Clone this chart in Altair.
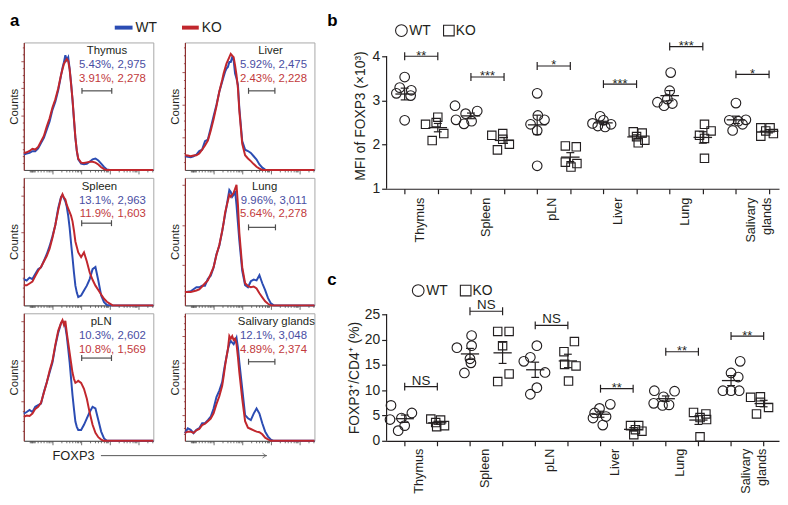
import altair as alt
import pandas as pd

FONT = "Liberation Sans"
INK = "#231f20"
WT_LINE = "#2b4cb3"
KO_LINE = "#c1272d"
WT_TEXT = "#4a4ea3"
KO_TEXT = "#c23a3c"
GATE = "#4d4d4d"
FRAME = "#a8a8a8"
YAXC = "#8e2f2f"

# ---------------- panel a : FOXP3 histograms ----------------
HX = [0.0, 0.1, 0.2, 0.3, 0.4, 0.5, 0.6, 0.7, 0.8, 0.9, 1.0, 1.1, 1.2, 1.3, 1.35, 1.4, 1.45, 1.5,
      1.55, 1.6, 1.65, 1.7, 1.75, 1.8, 1.85, 1.9, 2.0, 2.1, 2.2, 2.3, 2.4, 2.5, 2.6, 2.7, 2.8,
      2.9, 3.0, 3.1, 3.2, 4.52]

THYMUS_WT = [0.57, 0.60, 0.63, 0.69, 0.69, 0.79, 0.99, 1.18, 1.48, 1.78, 2.21, 2.51, 2.93, 3.48, 3.75, 3.96, 4.22, 4.05, 4.15, 3.72,
             3.20, 2.57, 1.85, 1.18, 0.70, 0.39, 0.23, 0.21, 0.23, 0.30, 0.39, 0.42, 0.35, 0.23, 0.11, 0.02, 0, 0, 0, 0]
THYMUS_KO = [0.62, 0.65, 0.70, 0.78, 0.75, 0.85, 1.05, 1.25, 1.60, 1.90, 2.30, 2.60, 3.00, 3.50, 3.70, 3.90, 4.00, 4.08, 4.00, 3.70,
             3.15, 2.60, 1.90, 1.20, 0.70, 0.42, 0.27, 0.26, 0.28, 0.30, 0.30, 0.27, 0.20, 0.10, 0.03, 0, 0, 0, 0, 0]
LIVER_WT = [0.42, 0.40, 0.39, 0.42, 0.47, 0.58, 0.62, 0.88, 0.93, 1.28, 1.64, 1.99, 2.39, 2.70, 2.85, 3.00, 3.10, 3.15, 3.30, 3.30,
            3.45, 3.35, 2.95, 2.80, 2.60, 1.88, 0.88, 0.62, 0.58, 0.52, 0.42, 0.32, 0.17, 0.07, 0.01, 0, 0, 0, 0, 0]
LIVER_KO = [0.45, 0.44, 0.42, 0.44, 0.45, 0.50, 0.62, 0.75, 0.90, 1.20, 1.55, 1.95, 2.40, 2.75, 2.95, 3.10, 3.25, 3.35, 3.45, 3.55,
            3.50, 3.45, 3.20, 2.90, 2.50, 1.80, 0.80, 0.45, 0.35, 0.27, 0.18, 0.10, 0.04, 0, 0, 0, 0, 0, 0, 0]
SPLEEN_WT = [0.72, 0.68, 0.76, 0.72, 0.86, 0.99, 1.04, 1.22, 1.40, 1.62, 1.89, 2.20, 2.66, 2.97, 3.02, 2.93, 2.85, 2.70, 2.45, 2.12,
             1.70, 1.31, 0.90, 0.54, 0.35, 0.23, 0.27, 0.41, 0.54, 0.72, 0.99, 1.05, 0.68, 0.27, 0.09, 0.01, 0, 0, 0, 0]
SPLEEN_KO = [0.55, 0.55, 0.60, 0.65, 0.80, 0.95, 1.05, 1.20, 1.35, 1.55, 1.85, 2.20, 2.60, 2.95, 3.04, 2.95, 2.90, 2.75, 2.65, 2.55,
             2.45, 2.30, 2.05, 1.75, 1.60, 1.45, 1.32, 1.45, 1.20, 0.90, 0.70, 0.54, 0.42, 0.30, 0.18, 0.10, 0.05, 0, 0, 0]
LUNG_WT = [0.33, 0.34, 0.35, 0.40, 0.45, 0.45, 0.49, 0.49, 0.66, 0.74, 0.94, 1.27, 1.48, 1.84, 2.05, 2.25, 2.45, 2.66, 2.87, 2.82,
           2.70, 2.75, 2.85, 2.50, 2.05, 1.60, 0.86, 0.50, 0.45, 0.60, 0.64, 0.62, 0.75, 0.55, 0.38, 0.18, 0.05, 0, 0, 0]
LUNG_KO = [0.33, 0.33, 0.33, 0.35, 0.37, 0.40, 0.47, 0.55, 0.62, 0.78, 0.95, 1.25, 1.50, 1.85, 2.05, 2.30, 2.45, 2.60, 2.75, 2.70,
           2.75, 2.80, 2.90, 3.00, 2.50, 1.80, 0.95, 0.55, 0.48, 0.45, 0.47, 0.42, 0.30, 0.20, 0.10, 0.04, 0, 0, 0, 0]
PLN_WT = [0.68, 0.72, 0.77, 0.72, 0.85, 0.89, 0.93, 1.22, 1.46, 1.71, 1.96, 2.37, 2.70, 2.94, 2.99, 2.96, 2.85, 2.62, 2.30, 1.96,
          1.55, 1.14, 0.80, 0.48, 0.35, 0.27, 0.27, 0.40, 0.56, 0.72, 0.85, 0.81, 0.52, 0.23, 0.06, 0, 0, 0, 0, 0]
PLN_KO = [0.60, 0.63, 0.62, 0.68, 0.80, 0.85, 0.95, 1.20, 1.45, 1.75, 2.00, 2.40, 2.75, 2.95, 3.02, 2.90, 3.00, 2.70, 2.45, 2.20,
          1.95, 1.70, 1.55, 1.45, 1.47, 1.50, 1.45, 1.30, 1.05, 0.70, 0.40, 0.20, 0.09, 0.03, 0, 0, 0, 0, 0, 0]
SAL_WT = [0.29, 0.48, 0.42, 0.29, 0.42, 0.48, 0.67, 0.67, 0.79, 0.92, 1.23, 1.67, 1.92, 2.24, 2.60, 2.93, 3.20, 3.50, 3.70, 3.81,
          3.75, 3.69, 3.81, 3.94, 3.56, 2.99, 1.99, 0.98, 0.86, 0.79, 1.04, 1.23, 1.04, 0.67, 0.35, 0.16, 0.04, 0, 0, 0]
SAL_KO = [0.30, 0.35, 0.35, 0.30, 0.40, 0.45, 0.60, 0.65, 0.75, 0.85, 1.05, 1.40, 1.70, 2.10, 2.45, 2.85, 3.20, 3.50, 4.00, 3.90,
          4.00, 3.85, 3.90, 3.70, 3.20, 2.60, 1.60, 0.75, 0.50, 0.45, 0.40, 0.35, 0.33, 0.25, 0.12, 0.05, 0, 0, 0, 0]

HIST_NAMES = ["Thymus", "Liver", "Spleen", "Lung", "pLN", "Salivary glands"]
HIST_WT = [THYMUS_WT, LIVER_WT, SPLEEN_WT, LUNG_WT, PLN_WT, SAL_WT]
HIST_KO = [THYMUS_KO, LIVER_KO, SPLEEN_KO, LUNG_KO, PLN_KO, SAL_KO]
HIST_YMAX = [4.69, 3.9, 3.49, 3.17, 3.19, 4.87]
WT_STATS = ["5.43%, 2,975", "5.92%, 2,475", "13.1%, 2,963", "9.96%, 3,011", "10.3%, 2,602", "12.1%, 3,048"]
KO_STATS = ["3.91%, 2,278", "2.43%, 2,228", "11.9%, 1,603", "5.64%, 2,278", "10.8%, 1,569", "4.89%, 2,374"]
GATE_LO = [2.03, 2.22, 2.02, 2.22, 2.02, 2.22]
GATE_HI = [3.07, 3.14, 3.06, 3.16, 3.06, 3.14]
GATE_Y = [2.91, 2.42, 2.25, 1.94, 2.07, 3.02]
TITLE_X = [2.9, 2.99, 2.64, 2.78, 2.7, 3.19]
STATS_X = 4.26
HIST_XMAX = 4.52
HIST_XTICKS = [0.2, 0.23, 0.26, 0.29, 0.32, 0.35, 0.38, 0.48, 0.6, 0.7, 0.78, 0.85, 0.9, 0.95,
               1, 1.3, 1.48, 1.6, 1.7, 1.78, 1.85, 1.9, 1.95,
               2, 2.3, 2.48, 2.6, 2.7, 2.78, 2.85, 2.9, 2.95,
               3, 3.3, 3.48, 3.6, 3.7, 3.78, 3.85, 3.9, 3.95,
               4, 4.3, 4.48]

# ---------------- panels b and c ----------------
ORGANS = ["Thymus", "Spleen", "pLN", "Liver", "Lung", "Salivary glands"]

MFI_WT = [[3.53, 3.29, 3.23, 3.16, 3.11, 2.55], [2.88, 2.56, 2.47, 2.70, 2.53, 2.76], [3.16, 2.66, 2.46, 2.56, 2.32, 1.52],
          [2.48, 2.64, 2.55, 2.46, 2.42, 2.40], [3.63, 3.22, 2.96, 2.88, 2.93, 3.03], [2.94, 2.55, 2.53, 2.56, 2.32, 2.46]]
MFI_WT_JIT = [[0, -0.15, 0.2, -0.25, 0.18, 0], [-0.48, -0.45, -0.21, -0.16, 0.02, 0.19], [0, 0.02, -0.2, 0.22, 0, 0],
              [-0.33, -0.1, 0, 0.23, -0.17, 0.05], [0.03, 0, -0.37, -0.17, 0.08, -0.07], [0, -0.2, 0.07, 0.3, -0.1, 0.2]]
MFI_KO = [[2.62, 2.50, 2.46, 2.25, 2.09], [2.21, 2.25, 2.12, 1.88, 2.01], [1.97, 1.95, 1.60, 1.57, 1.49],
          [2.29, 2.26, 2.18, 2.10, 2.04], [2.46, 2.31, 2.21, 2.14, 1.69], [2.38, 2.38, 2.31, 2.19, 2.25]]
MFI_KO_JIT = [[0, -0.05, -0.37, 0.18, -0.17], [-0.37, -0.04, -0.04, -0.2, 0.16], [-0.15, 0.18, -0.15, 0.2, 0.02],
              [-0.1, 0.17, 0, 0.25, 0.05], [0.05, 0.25, -0.1, 0.05, 0.05], [-0.25, 0.03, -0.1, -0.25, 0.13]]
MFI_SIG_Y = [4.0, 3.53, 3.78, 3.37, 4.22, 3.59]
MFI_SIG = ["**", "***", "*", "***", "***", "*"]

FREQ_WT = [[7.0, 4.2, 4.5, 5.5, 3.0, 2.0], [18.4, 20.8, 18.8, 16.2, 15.4, 13.4], [15.7, 16.5, 18.8, 13.5, 10.5, 9.2],
           [6.4, 7.2, 5.5, 4.8, 4.5, 3.1], [9.9, 9.8, 8.7, 7.4, 7.0, 7.1], [13.4, 15.7, 12.6, 9.9, 9.9, 9.9]]
FREQ_WT_JIT = [[-0.42, -0.45, -0.1, 0.22, 0, -0.2], [-0.4, 0.05, 0.05, 0, 0.03, -0.17], [-0.35, -0.15, 0.05, 0.3, 0.05, -0.15],
               [-0.03, 0.3, -0.18, 0.17, -0.23, 0.07], [-0.35, 0.27, -0.07, -0.37, -0.1, 0.1], [0, 0.28, 0.22, -0.25, 0, 0.25]]
FREQ_KO = [[4.3, 4.1, 3.6, 2.8, 3.0], [21.6, 21.6, 18.8, 11.7, 13.2], [19.6, 17.6, 15.1, 14.8, 11.8],
           [3.0, 3.0, 2.2, 1.9, 1.2], [5.6, 5.3, 4.6, 4.2, 0.8], [8.6, 8.7, 7.6, 6.6, 5.3]]
FREQ_KO_JIT = [[-0.2, 0.1, -0.05, -0.02, 0.22], [-0.15, 0.2, 0, -0.15, 0.2], [0.2, -0.12, -0.1, 0.25, 0.02],
               [-0.08, 0.17, 0.07, 0.27, 0.02], [-0.15, 0.23, 0.05, 0.25, 0.05], [-0.4, -0.1, -0.1, 0.15, -0.22]]
FREQ_SIG_Y = [10.7, 25.6, 22.8, 10.3, 17.6, 20.7]
FREQ_SIG = ["NS", "NS", "NS", "**", "**", "**"]

HW, HH = 131, 129
DW = 397


def major_minor(big, small):
    return {"condition": {"test": "datum.value % 1 === 0", "value": big}, "value": small}


def hist_panel(i):
    n = len(HX)
    curves = pd.DataFrame({"x": HX + HX, "c": HIST_WT[i] + HIST_KO[i], "geno": ["WT"] * n + ["KO"] * n})
    xsc = alt.Scale(domain=[0, HIST_XMAX], nice=False, zero=False)
    ysc = alt.Scale(domain=[0, HIST_YMAX[i]], nice=False, zero=False)
    yt = [k / 4 for k in range(1, int(HIST_YMAX[i] * 4) + 1)]
    xax = alt.Axis(values=HIST_XTICKS, labels=False, title=None, grid=False, domainColor="#4d4d4d",
                   tickColor="#4d4d4d", domainWidth=1, tickWidth=0.8, tickSize=major_minor(4, 2))
    yax = alt.Axis(values=yt, labels=False, title="Counts", grid=False, domainColor=YAXC, tickColor=YAXC,
                   domainWidth=1.2, tickWidth=0.8, tickSize=major_minor(3, 1.5), titleFontSize=11.5,
                   titlePadding=1, titleFontWeight="normal", titleColor=INK)

    def X(f):
        return alt.X(f, scale=xsc, axis=xax)

    def Y(f):
        return alt.Y(f, scale=ysc, axis=yax)

    base = alt.Chart(curves)
    wt = base.transform_filter(alt.datum.geno == "WT").mark_line(color=WT_LINE, strokeWidth=2).encode(x=X("x:Q"), y=Y("c:Q"))
    ko = base.transform_filter(alt.datum.geno == "KO").mark_line(color=KO_LINE, strokeWidth=2).encode(x=X("x:Q"), y=Y("c:Q"))
    gdf = pd.DataFrame({"lo": [GATE_LO[i]], "hi": [GATE_HI[i]], "gy": [GATE_Y[i]]})
    gate = alt.Chart(gdf).mark_rule(color=GATE, strokeWidth=1.2).encode(x=X("lo:Q"), x2="hi:Q", y=Y("gy:Q"))
    cdf = pd.DataFrame({"gx": [GATE_LO[i], GATE_HI[i]], "gy": [GATE_Y[i], GATE_Y[i]]})
    caps = alt.Chart(cdf).mark_rule(color=GATE, strokeWidth=1.2, yOffset=-3, y2Offset=3).encode(
        x=X("gx:Q"), y=Y("gy:Q"), y2="gy:Q")
    tdf = pd.DataFrame({"t": [HIST_NAMES[i]], "tx": [TITLE_X[i]]})
    title = alt.Chart(tdf).mark_text(fontSize=11.5, color=INK, align="center", baseline="middle").encode(
        x=X("tx:Q"), y=alt.value(9), text="t:N")
    wdf = pd.DataFrame({"t": [WT_STATS[i]], "tx": [STATS_X]})
    kdf = pd.DataFrame({"t": [KO_STATS[i]], "tx": [STATS_X]})
    wtxt = alt.Chart(wdf).mark_text(fontSize=11.5, color=WT_TEXT, align="right", baseline="middle").encode(
        x=X("tx:Q"), y=alt.value(23), text="t:N")
    ktxt = alt.Chart(kdf).mark_text(fontSize=11.5, color=KO_TEXT, align="right", baseline="middle").encode(
        x=X("tx:Q"), y=alt.value(37), text="t:N")
    layers = [wt, ko, gate, caps, title, wtxt, ktxt]
    if i == 0:
        ldf = pd.DataFrame({"t": ["a"]})
        layers.append(alt.Chart(ldf).mark_text(fontSize=17, fontWeight="bold", color="#000", align="left",
                                               baseline="top").encode(x=alt.value(-14), y=alt.value(-30), text="t:N"))
        wl = pd.DataFrame({"t": ["WT"]})
        kl = pd.DataFrame({"t": ["KO"]})
        layers.append(alt.Chart(wl).mark_rule(color=WT_LINE, strokeWidth=4).encode(
            x=alt.value(92), x2=alt.value(110), y=alt.value(-15)))
        layers.append(alt.Chart(wl).mark_text(fontSize=14, color=INK, align="left", baseline="middle").encode(
            x=alt.value(113), y=alt.value(-15), text="t:N"))
        layers.append(alt.Chart(kl).mark_rule(color=KO_LINE, strokeWidth=4).encode(
            x=alt.value(160), x2=alt.value(177), y=alt.value(-15)))
        layers.append(alt.Chart(kl).mark_text(fontSize=14, color=INK, align="left", baseline="middle").encode(
            x=alt.value(180), y=alt.value(-15), text="t:N"))
    if i == 4:
        fdf = pd.DataFrame({"t": ["FOXP3"]})
        layers.append(alt.Chart(fdf).mark_text(fontSize=13, color=INK, align="left", baseline="middle").encode(
            x=alt.value(29), y=alt.value(HH + 15), text="t:N"))
        layers.append(alt.Chart(fdf).mark_rule(color="#555", strokeWidth=1).encode(
            x=alt.value(78), x2=alt.value(246), y=alt.value(HH + 15)))
        layers.append(alt.Chart(fdf).mark_point(shape="M -1 -0.7 L 0 0 L -1 0.7", filled=False, size=49,
                                                color="#555", strokeWidth=1).encode(
            x=alt.value(245), y=alt.value(HH + 15)))
    return alt.layer(*layers).properties(width=HW, height=HH,
                                         view=alt.ViewBackground(stroke=FRAME, strokeWidth=1))


def dot_panel(wt, wt_j, ko, ko_j, sig_y, sig_t, ydom, axis_top, yvals, ytitle, xdom, height, letter, letter_y,
              leg_x, leg_y, title_pad, label_gap):
    rows = []
    for g in range(6):
        for v, j in zip(wt[g], wt_j[g]):
            rows.append({"pos": 2 * g, "xj": 2 * g + j, "v": v, "geno": "WT"})
        for v, j in zip(ko[g], ko_j[g]):
            rows.append({"pos": 2 * g + 1, "xj": 2 * g + 1 + j, "v": v, "geno": "KO"})
    pts = pd.DataFrame(rows)
    xsc = alt.Scale(domain=xdom, nice=False, zero=False)
    ysc = alt.Scale(domain=ydom, nice=False, zero=False)
    xax = alt.Axis(values=list(range(12)), labels=False, title=None, grid=False, tickSize=5,
                   domainColor=INK, tickColor=INK, domainWidth=1.2, tickWidth=1.2)
    yax = alt.Axis(values=yvals, title=ytitle, grid=False, tickSize=5, domain=False, tickColor=INK,
                   tickWidth=1.2, labelFontSize=14, labelPadding=2, labelColor=INK,
                   titleFontSize=14, titleFontWeight="normal", titleColor=INK, titlePadding=title_pad)

    def X(f):
        return alt.X(f, scale=xsc, axis=xax)

    def Y(f):
        return alt.Y(f, scale=ysc, axis=yax)

    base = alt.Chart(pts)
    circ = base.transform_filter(alt.datum.geno == "WT").mark_point(
        shape="circle", filled=False, size=95, strokeWidth=1.15, color=INK, opacity=1).encode(x=X("xj:Q"), y=Y("v:Q"))
    sq = base.transform_filter(alt.datum.geno == "KO").mark_point(
        shape="square", filled=False, size=72, strokeWidth=1.15, color=INK, opacity=1).encode(x=X("xj:Q"), y=Y("v:Q"))
    stats = base.transform_aggregate(m="mean(v)", s="stderr(v)", groupby=["pos"]).transform_calculate(
        lo="datum.m - datum.s", hi="datum.m + datum.s",
        a1="datum.pos - 0.28", a2="datum.pos + 0.28", c1="datum.pos - 0.12", c2="datum.pos + 0.12")
    mean = stats.mark_rule(color=INK, strokeWidth=1.3).encode(x=X("a1:Q"), x2="a2:Q", y=Y("m:Q"))
    vbar = stats.mark_rule(color=INK, strokeWidth=1.2).encode(x=X("pos:Q"), y=Y("lo:Q"), y2="hi:Q")
    cap_lo = stats.mark_rule(color=INK, strokeWidth=1.2).encode(x=X("c1:Q"), x2="c2:Q", y=Y("lo:Q"))
    cap_hi = stats.mark_rule(color=INK, strokeWidth=1.2).encode(x=X("c1:Q"), x2="c2:Q", y=Y("hi:Q"))

    # y axis line, drawn only over the labelled range
    adf = pd.DataFrame({"y0": [ydom[0]], "y1": [axis_top]})
    yline = alt.Chart(adf).mark_rule(color=INK, strokeWidth=1.2).encode(x=alt.value(0), y=Y("y0:Q"), y2="y1:Q")

    sig = pd.DataFrame({"l": [2 * g for g in range(6)], "r": [2 * g + 1 for g in range(6)],
                        "m": [2 * g + 0.5 for g in range(6)], "lev": sig_y, "t": sig_t})
    sbase = alt.Chart(sig)
    br = sbase.mark_rule(color=INK, strokeWidth=1.2).encode(x=X("l:Q"), x2="r:Q", y=Y("lev:Q"))
    brc = sbase.transform_fold(["l", "r"], as_=["side", "cx"]).mark_rule(
        color=INK, strokeWidth=1.2, yOffset=-4, y2Offset=4).encode(x=X("cx:Q"), y=Y("lev:Q"), y2="lev:Q")
    stars = sbase.transform_filter("indexof(datum.t, '*') >= 0").mark_text(
        fontSize=13, color=INK, baseline="alphabetic", dy=3.5).encode(x=X("m:Q"), y=Y("lev:Q"), text="t:N")
    ns = sbase.transform_filter("indexof(datum.t, '*') < 0").mark_text(
        fontSize=13.5, color=INK, baseline="alphabetic", dy=-2).encode(x=X("m:Q"), y=Y("lev:Q"), text="t:N")

    cat = pd.DataFrame({"t": ORGANS, "mid": [2 * g + 0.45 for g in range(6)]})
    cats = alt.Chart(cat).mark_text(fontSize=12.8, color=INK, angle=270, align="right", baseline="middle",
                                    lineBreak=" ", lineHeight=16.5).encode(
        x=X("mid:Q"), y=alt.value(height + label_gap), text="t:N")

    let = alt.Chart(pd.DataFrame({"t": [letter]})).mark_text(
        fontSize=17, fontWeight="bold", color="#000", align="left", baseline="top").encode(
        x=alt.value(-60), y=alt.value(letter_y), text="t:N")
    wl = pd.DataFrame({"t": ["WT"]})
    kl = pd.DataFrame({"t": ["KO"]})
    lc = alt.Chart(wl).mark_point(shape="circle", filled=False, size=140, strokeWidth=1.1, color=INK, opacity=1).encode(
        x=alt.value(leg_x), y=alt.value(leg_y))
    lct = alt.Chart(wl).mark_text(fontSize=14, color=INK, align="left", baseline="middle").encode(
        x=alt.value(leg_x + 8), y=alt.value(leg_y), text="t:N")
    ls = alt.Chart(kl).mark_point(shape="square", filled=False, size=115, strokeWidth=1.1, color=INK, opacity=1).encode(
        x=alt.value(leg_x + 48), y=alt.value(leg_y))
    lst = alt.Chart(kl).mark_text(fontSize=14, color=INK, align="left", baseline="middle").encode(
        x=alt.value(leg_x + 55), y=alt.value(leg_y), text="t:N")

    return alt.layer(yline, circ, sq, mean, vbar, cap_lo, cap_hi, br, brc, stars, ns, cats, let, lc, lct, ls,
                     lst).properties(width=DW, height=height)


hist = alt.concat(*[hist_panel(i) for i in range(6)], columns=2, spacing={"row": 8, "column": 32},
                  bounds="flush").resolve_scale(x="independent", y="independent")

# panel b: plot area starts level with the histograms; y axis itself spans 1..4
b_panel = dot_panel(MFI_WT, MFI_WT_JIT, MFI_KO, MFI_KO_JIT, MFI_SIG_Y, MFI_SIG, [1, 4.313], 4, [1, 2, 3, 4],
                    "MFI of FOXP3 (×10³)", [-0.546, 11.3], 148, "b", -30, 15, -12, 5, 9)
c_panel = dot_panel(FREQ_WT, FREQ_WT_JIT, FREQ_KO, FREQ_KO_JIT, FREQ_SIG_Y, FREQ_SIG, [0, 25], 25,
                    [0, 5, 10, 15, 20, 25], "FOXP3⁺/CD4⁺ (%)", [-0.555, 11.47], 128, "c", -43, 32, -24, 3, 8)

right = alt.vconcat(b_panel, c_panel, spacing=127, bounds="flush").resolve_scale(x="independent", y="independent")

chart = alt.hconcat(hist, right, spacing=8).resolve_scale(x="independent", y="independent").properties(
    padding=0).configure(font=FONT).configure_view(stroke=None).configure_axis(
    labelFont=FONT, titleFont=FONT).configure_text(font=FONT)

chart.save("out.html", embed_options={"renderer": "svg", "actions": False})
